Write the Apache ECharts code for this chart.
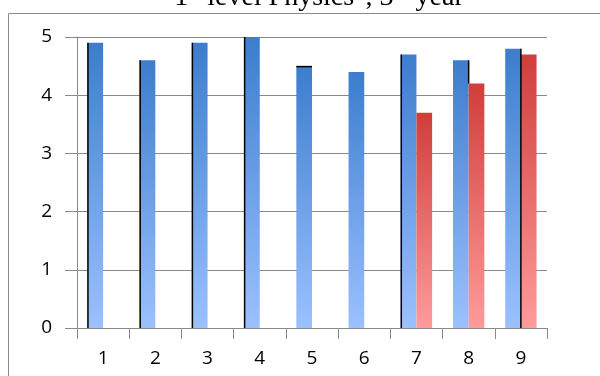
<!DOCTYPE html>
<html>
<head>
<meta charset="utf-8">
<script src="https://cdn.jsdelivr.net/npm/echarts@6/dist/echarts.min.js"></script>
<style>html,body{margin:0;padding:0;background:#fff}#c{width:600px;height:376px}</style>
</head>
<body>
<div id="c"></div>
<script>
var categories = ['1','2','3','4','5','6','7','8','9'];
var seriesA = [4.9, 4.6, 4.9, 5.0, 4.5, 4.4, 4.7, 4.6, 4.8];
var seriesB = [null, null, null, null, null, null, 3.7, 4.2, 4.7];
var yTicks = [0, 1, 2, 3, 4, 5];
// thin dark edge artifacts seen on some bars: [category index, from value, to value, edge]
// edge: 'L' = left edge of first bar, 'M' = between bars, 'T' = top of first bar
var edgeMarks = [
  [0, 0, 4.9, 'L'], [1, 0, 4.6, 'L'], [2, 0, 4.9, 'L'], [3, 0, 5.0, 'L'],
  [4, 4.5, 4.5, 'T'], [6, 0, 4.7, 'L'], [7, 4.2, 4.6, 'M'], [8, 0, 4.8, 'M']
];

var chart = echarts.init(document.getElementById('c'), null, {renderer: 'canvas'});
function grad(top, bottom) {
  return new echarts.graphic.LinearGradient(0, 0, 0, 1, [
    {offset: 0, color: top}, {offset: 1, color: bottom}
  ]);
}
chart.setOption({
  animation: false,
  title: {
    text: '1{s|st} level Physics", 3{s|rd} year',
    left: 314, textAlign: 'center', top: -21,
    textStyle: {
      fontFamily: 'Liberation Serif', fontSize: 28, fontWeight: 'normal', color: '#000',
      rich: {s: {fontFamily: 'Liberation Serif', fontSize: 18, verticalAlign: 'top', padding: [0,0,10,0]}}
    }
  },
  graphic: [{
    type: 'rect', shape: {x: 8.5, y: 13.5, width: 700, height: 500},
    style: {fill: 'none', stroke: '#8a8a8a', lineWidth: 1}, silent: true, z: -10
  }],
  grid: {left: 77, right: 53, top: 37, bottom: 48},
  xAxis: {
    type: 'category', data: categories,
    axisLine: {lineStyle: {color: '#8a8a8a', width: 1}},
    axisTick: {show: true, length: 11, lineStyle: {color: '#8a8a8a'}},
    axisLabel: {fontFamily: 'Open Sans', fontSize: 19, color: '#000', margin: 21}
  },
  yAxis: {
    type: 'value', min: 0, max: 5, interval: 1,
    axisLine: {show: true, lineStyle: {color: '#8a8a8a', width: 1}},
    axisTick: {show: true, length: 12, lineStyle: {color: '#8a8a8a'}},
    splitLine: {lineStyle: {color: '#8a8a8a', width: 1}},
    axisLabel: {fontFamily: 'Open Sans', fontSize: 19, color: '#000', margin: 25,
      formatter: function (v) { return yTicks.indexOf(v) >= 0 ? String(v) : ''; }}
  },
  series: [{
    type: 'bar', data: seriesA, barGap: '0%', barCategoryGap: '40%',
    itemStyle: {color: grad('#3c7dcd', '#9bc1ff')}
  }, {
    type: 'bar', data: seriesB,
    itemStyle: {color: grad('#cf3e3b', '#ff9b9b')}
  }, {
    type: 'custom', z: 5, silent: true,
    data: edgeMarks,
    renderItem: function (params, api) {
      var ci = api.value(0);
      var p1 = api.coord([ci, api.value(1)]);
      var p2 = api.coord([ci, api.value(2)]);
      var bw = api.size([1, 0])[0];
      var kind = edgeMarks[params.dataIndex][3];
      var x;
      if (kind === 'T') {
        return {type: 'line', shape: {x1: p1[0] - 0.3 * bw, y1: p2[1] + 0.5, x2: p1[0], y2: p2[1] + 0.5},
          style: {stroke: '#000', lineWidth: 1.5}};
      }
      x = kind === 'L' ? p1[0] - 0.3 * bw + 0.5 : p1[0];
      return {type: 'line', shape: {x1: x, y1: p1[1], x2: x, y2: p2[1]},
        style: {stroke: '#000', lineWidth: 1.5}};
    }
  }]
});
</script>
</body>
</html>
